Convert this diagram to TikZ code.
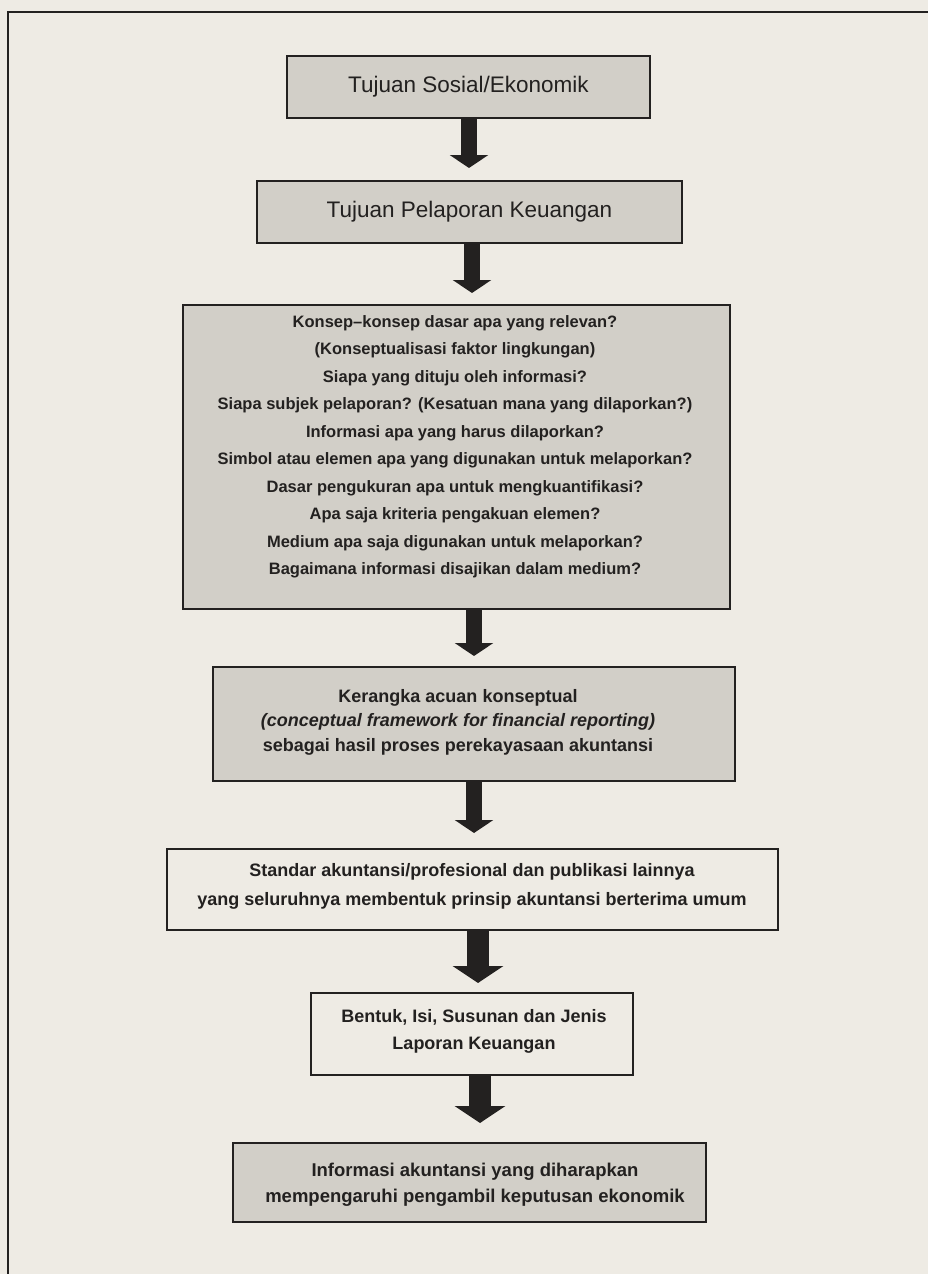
\documentclass[tikz,border=0pt]{standalone}
\usepackage{fontspec}
\setmainfont{Liberation Sans}
\usetikzlibrary{arrows.meta}
\definecolor{paper}{RGB}{238,235,228}
\definecolor{tone}{RGB}{210,207,200}
\definecolor{ink}{RGB}{35,33,32}
\tikzset{
  frameline/.style={draw=ink, line width=1.3pt},
  boxbase/.style={draw=ink, line width=1.3pt, inner sep=0pt, outer sep=0pt,
                  align=center, text=ink},
  shadebox/.style={boxbase, fill=tone},
  plainbox/.style={boxbase, fill=paper},
  headtext/.style={font=\fontsize{22.5}{27}\selectfont},
  bodytext/.style={font=\bfseries\fontsize{18}{27}\selectfont, align=center,
                   text=ink, inner sep=0pt},
  fatarrow/.style={draw=ink, line width=16pt,
                   -{Triangle[width=38pt,length=13pt]}},
  bigarrow/.style={draw=ink, line width=22pt,
                   -{Triangle[width=50pt,length=17pt]}},
}
\begin{document}
\begin{tikzpicture}[x=1pt,y=-1pt]
  \fill[paper] (0,0) rectangle (928,1274);
  \useasboundingbox (0,0) rectangle (928,1274);
  % page frame
  \draw[frameline] (8,1280) |- (935,12);

  % boxes
  \node[shadebox, headtext, minimum width=363pt, minimum height=62pt]
    (b1) at (468.5,87) {Tujuan Sosial/Ekonomik};
  \node[shadebox, headtext, minimum width=425pt, minimum height=62pt]
    (b2) at (469.5,212) {Tujuan Pelaporan Keuangan};
  \node[shadebox, minimum width=547pt, minimum height=304pt]
    (b3) at (456.5,457) {};
  \node[shadebox, minimum width=522pt, minimum height=114pt]
    (b4) at (474,724) {};
  \node[plainbox, minimum width=611pt, minimum height=81pt]
    (b5) at (472.5,889.5) {};
  \node[plainbox, minimum width=322pt, minimum height=82pt]
    (b6) at (472,1034) {};
  \node[shadebox, minimum width=473pt, minimum height=79pt]
    (b7) at (469.5,1182.5) {};

  % box texts
  \node[bodytext, font=\bfseries\fontsize{16.5}{27.5}\selectfont]
    (t3) at (455,447) {%
    Konsep–konsep dasar apa yang relevan?\\
    (Konseptualisasi faktor lingkungan)\\
    Siapa yang dituju oleh informasi?\\
    Siapa subjek pelaporan? (Kesatuan mana yang dilaporkan?)\\
    Informasi apa yang harus dilaporkan?\\
    Simbol atau elemen apa yang digunakan untuk melaporkan?\\
    Dasar pengukuran apa untuk mengkuantifikasi?\\
    Apa saja kriteria pengakuan elemen?\\
    Medium apa saja digunakan untuk melaporkan?\\
    Bagaimana informasi disajikan dalam medium?};
  \node[bodytext, font=\bfseries\fontsize{18}{24.5}\selectfont]
    (t4) at (458,722) {%
    Kerangka acuan konseptual\\
    {\itshape (conceptual framework for financial reporting)}\\
    sebagai hasil proses perekayasaan akuntansi};
  \node[bodytext, font=\bfseries\fontsize{18}{29}\selectfont]
    (t5) at (472,886) {%
    Standar akuntansi/profesional dan publikasi lainnya\\
    yang seluruhnya membentuk prinsip akuntansi berterima umum};
  \node[bodytext, font=\bfseries\fontsize{18}{27}\selectfont]
    (t6) at (474,1031) {%
    Bentuk, Isi, Susunan dan Jenis\\
    Laporan Keuangan};
  \node[bodytext, font=\bfseries\fontsize{18.5}{26}\selectfont]
    (t7) at (475,1185) {%
    Informasi akuntansi yang diharapkan\\
    mempengaruhi pengambil keputusan ekonomik};

  % arrow axes
  \coordinate (x1) at (469,0);
  \coordinate (x2) at (472,0);
  \coordinate (x3) at (474,0);
  \coordinate (x4) at (474,0);
  \coordinate (x5) at (478,0);
  \coordinate (x6) at (480,0);

  % connectors
  \draw[fatarrow, shorten >=13pt] (b1.south -| x1) -- (b2.north -| x1);
  \draw[fatarrow, shorten >=12pt] (b2.south -| x2) -- (b3.north -| x2);
  \draw[fatarrow, shorten >=11pt] (b3.south -| x3) -- (b4.north -| x3);
  \draw[fatarrow, shorten >=16pt] (b4.south -| x4) -- (b5.north -| x4);
  \draw[bigarrow, shorten >=10pt] (b5.south -| x5) -- (b6.north -| x5);
  \draw[bigarrow, shorten >=20pt] (b6.south -| x6) -- (b7.north -| x6);
\end{tikzpicture}
\end{document}
